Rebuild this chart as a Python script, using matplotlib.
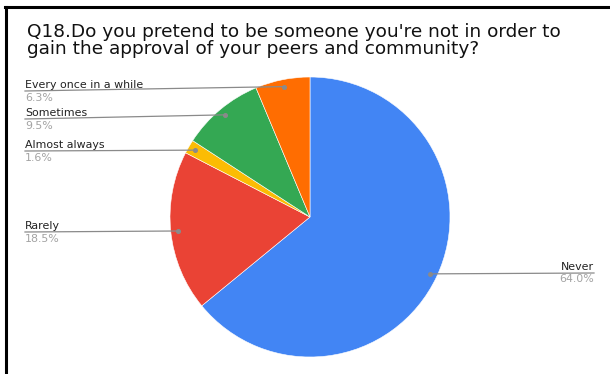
import numpy as np
import matplotlib
matplotlib.use("Agg")
import matplotlib.pyplot as plt
from matplotlib.lines import Line2D

# Survey answers, clockwise from 12 o'clock
answers = ["Never", "Rarely", "Almost always", "Sometimes", "Every once in a while"]
shares = [64.0, 18.5, 1.6, 9.5, 6.3]
colors = ["#4285F4", "#EA4335", "#FBBC04", "#34A853", "#FF6D01"]

title = ("Q18.Do you pretend to be someone you're not in order to\n"
         "gain the approval of your peers and community?")

W, H = 610, 374
fig = plt.figure(figsize=(W / 100, H / 100), dpi=100)
ax = fig.add_axes([0, 0, 1, 1])

cx, cy, r = 310, H - 217, 140
wedges, _ = ax.pie(shares, colors=colors, startangle=90, counterclock=False,
                   center=(cx, cy), radius=r,
                   wedgeprops=dict(edgecolor="white", linewidth=0.4))
ax.set_xlim(0, W)
ax.set_ylim(0, H)
ax.set_aspect("equal")
ax.axis("off")

# label anchors in pixels from the top-left: (x, y of leader line, side)
anchors = {
    "Every once in a while": (25, 91, "left"),
    "Sometimes": (25, 119, "left"),
    "Almost always": (25, 151, "left"),
    "Rarely": (25, 232, "left"),
    "Never": (594, 273, "right"),
}

name_color = "#222222"
pct_color = "#a3a3a3"
line_color = "#8a8a8a"

for w, name, pct in zip(wedges, answers, shares):
    mid = np.deg2rad((w.theta1 + w.theta2) / 2)
    px = cx + 0.95 * r * np.cos(mid)
    py = cy + 0.95 * r * np.sin(mid)
    lx, ly, side = anchors[name]
    ly = H - ly
    ax.plot([lx, px], [ly, py], color=line_color, lw=0.9, zorder=3)
    ax.plot(px, py, "o", color=line_color, ms=2.6, zorder=4)
    ax.text(lx, ly + 1.5, name, ha=side, va="bottom", fontsize=7.9,
            color=name_color)
    ax.text(lx, ly - 1.5, f"{pct:.1f}%", ha=side, va="top", fontsize=7.9,
            color=pct_color)

fig.text(27 / W, 1 - 23 / H, title, ha="left", va="top", fontsize=13.3,
         color="#111111", linespacing=0.95)

# frame lines along the top and left edge
fig.add_artist(Line2D([5 / W, 1], [1 - 7 / H, 1 - 7 / H], color="black",
                      lw=2.2, transform=fig.transFigure))
fig.add_artist(Line2D([6 / W, 6 / W], [0, 1 - 7 / H], color="black",
                      lw=2.2, transform=fig.transFigure))

fig.savefig("out.png", dpi=100)
